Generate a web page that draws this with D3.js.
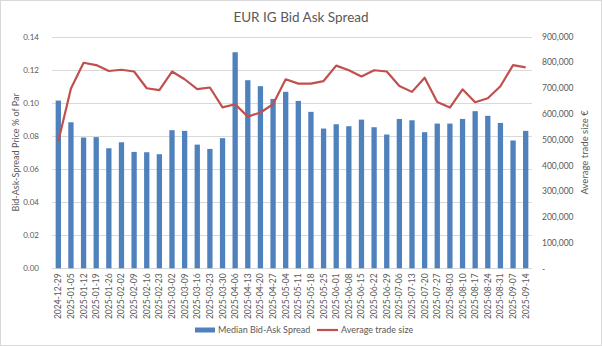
<!DOCTYPE html>
<html><head><meta charset="utf-8">
<script src="https://cdn.jsdelivr.net/npm/d3@7"></script>
<style>
html,body{margin:0;padding:0;background:#fff;}
svg{display:block;font-family:"Lato","Open Sans",sans-serif;}
</style></head>
<body>
<svg id="chart" width="602" height="346"></svg>
<script>
const categories = ["2024-12-29","2025-01-05","2025-01-12","2025-01-19","2025-01-26","2025-02-02","2025-02-09","2025-02-16","2025-02-23","2025-03-02","2025-03-09","2025-03-16","2025-03-23","2025-03-30","2025-04-06","2025-04-13","2025-04-20","2025-04-27","2025-05-04","2025-05-11","2025-05-18","2025-05-25","2025-06-01","2025-06-08","2025-06-15","2025-06-22","2025-06-29","2025-07-06","2025-07-13","2025-07-20","2025-07-27","2025-08-03","2025-08-10","2025-08-17","2025-08-24","2025-08-31","2025-09-07","2025-09-14"];
const spread = [0.1013,0.0882,0.0790,0.0792,0.0725,0.0761,0.0703,0.0701,0.0689,0.0834,0.0830,0.0747,0.0721,0.0786,0.1305,0.1136,0.1100,0.1023,0.1066,0.1011,0.0945,0.0844,0.0870,0.0858,0.0898,0.0852,0.0808,0.0902,0.0894,0.0822,0.0874,0.0874,0.0902,0.0949,0.0921,0.0878,0.0772,0.0830];
const tradeSize = [493500,698000,798000,789000,766000,771000,764000,699000,692000,764000,734000,696000,702000,625000,637000,589000,605000,637000,734000,717000,717000,727000,787000,769000,745000,769000,764000,708000,685000,740000,646000,624000,695000,645000,660000,707000,789000,780000];
const leftTicks = [0,0.02,0.04,0.06,0.08,0.10,0.12,0.14];
const rightTicks = [0,100000,200000,300000,400000,500000,600000,700000,800000,900000];
const title = "EUR IG Bid Ask Spread";
const leftTitle = "Bid-Ask-Spread Price % of Par";
const rightTitle = "Average trade size €";
const seriesNames = ["Median Bid-Ask Spread","Average trade size"];

const W = 602, H = 346;
const m = {left:52, right:532, top:36.5, bottom:268.3};
const svg = d3.select("#chart");
const textCol = "#595959";
const barCol = "#4F81BD";
const lineCol = "#C0504D";

svg.append("rect").attr("x",0.5).attr("y",0.5).attr("width",W-1).attr("height",H-1)
  .attr("fill","#fff").attr("stroke","#d9d9d9");

const x = d3.scaleBand().domain(categories).range([m.left,m.right]).paddingInner(0.58).paddingOuter(0.29);
const xc = d => x(d) + x.bandwidth()/2;
const yL = d3.scaleLinear().domain([0,0.14]).range([m.bottom,m.top]);
const yR = d3.scaleLinear().domain([0,900000]).range([m.bottom,m.top]);

// gridlines
svg.append("g").selectAll("line").data(leftTicks).join("line")
  .attr("x1",m.left).attr("x2",m.right)
  .attr("y1",d=>Math.round(yL(d))+0.5).attr("y2",d=>Math.round(yL(d))+0.5)
  .attr("stroke","#d9d9d9").attr("stroke-width",1);

// left axis
const axL = d3.axisLeft(yL).tickValues(leftTicks).tickFormat(d3.format(".2f")).tickSize(0).tickPadding(13);
const gL = svg.append("g").attr("transform",`translate(${m.left},0)`).call(axL);
gL.select(".domain").remove();
gL.selectAll("text").attr("fill",textCol).style("font-size","8px").style("font-family","Lato,sans-serif");

// right axis
const axR = d3.axisRight(yR).tickValues(rightTicks).tickFormat(d => d===0 ? "-" : d3.format(",")(d)).tickSize(0).tickPadding(10);
const gR = svg.append("g").attr("transform",`translate(${m.right},0)`).call(axR);
gR.select(".domain").remove();
gR.selectAll("text").attr("fill",textCol).style("font-size","8.5px").style("font-family","Lato,sans-serif");

// bars
svg.append("g").selectAll("rect").data(spread).join("rect")
  .attr("x",(d,i)=>x(categories[i])).attr("width",x.bandwidth())
  .attr("y",d=>yL(d)).attr("height",d=>m.bottom-yL(d))
  .attr("fill",barCol);

// line
const line = d3.line().x((d,i)=>xc(categories[i])).y(d=>yR(d));
svg.append("path").datum(tradeSize).attr("d",line)
  .attr("fill","none").attr("stroke",lineCol).attr("stroke-width",2.2).attr("stroke-linejoin","round");

// x axis labels
const axX = d3.axisBottom(x).tickSize(0).tickPadding(0);
const gX = svg.append("g").attr("transform",`translate(0,${m.bottom})`).call(axX);
gX.select(".domain").remove();
gX.selectAll("text").attr("fill",textCol).style("font-size","8.5px").style("font-family","Lato,sans-serif")
  .attr("text-anchor","end").attr("dy","0.35em")
  .attr("transform","translate(0,5) rotate(-90)").attr("x",0).attr("y",0);

// title
svg.append("text").attr("x",301).attr("y",22).attr("text-anchor","middle")
  .attr("fill",textCol).style("font-size","13.5px").text(title);

// axis titles
svg.append("text").attr("transform",`translate(16,${(m.top+m.bottom)/2}) rotate(-90)`)
  .attr("text-anchor","middle").attr("dy","0.35em").attr("fill",textCol).style("font-size","9px").text(leftTitle);
svg.append("text").attr("transform",`translate(585,${(m.top+m.bottom)/2}) rotate(-90)`)
  .attr("text-anchor","middle").attr("dy","0.35em").attr("fill",textCol).style("font-size","9.5px").text(rightTitle);

// legend
const lg = svg.append("g");
lg.append("rect").attr("x",195).attr("y",327.5).attr("width",20).attr("height",5).attr("fill",barCol);
lg.append("text").attr("x",218).attr("y",330).attr("dy","0.35em").attr("fill",textCol).style("font-size","9px").text(seriesNames[0]);
lg.append("line").attr("x1",317).attr("x2",338).attr("y1",330).attr("y2",330).attr("stroke",lineCol).attr("stroke-width",2.2);
lg.append("text").attr("x",341).attr("y",330).attr("dy","0.35em").attr("fill",textCol).style("font-size","9px").text(seriesNames[1]);
</script>
</body></html>
